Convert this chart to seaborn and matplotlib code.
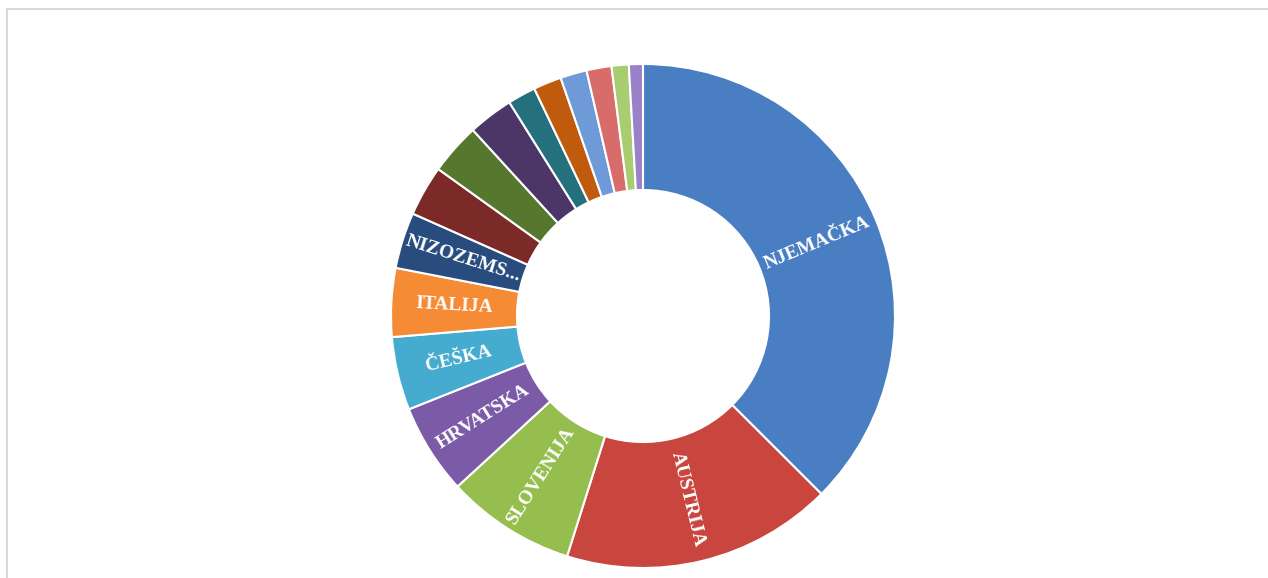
import numpy as np
import matplotlib
matplotlib.use("Agg")
import matplotlib.pyplot as plt
import seaborn as sns
from matplotlib.lines import Line2D

sns.set_theme(style="white")

# share of total (%), clockwise from the top
countries = ["NJEMAČKA", "AUSTRIJA", "SLOVENIJA", "HRVATSKA", "ČEŠKA", "ITALIJA",
             "NIZOZEMSKA", "ZEMLJA 8", "ZEMLJA 9", "ZEMLJA 10", "ZEMLJA 11",
             "ZEMLJA 12", "ZEMLJA 13", "ZEMLJA 14", "ZEMLJA 15", "ZEMLJA 16"]
shares = [37.5, 17.4, 8.3, 5.8, 4.7, 4.4, 3.6, 3.25, 3.3, 2.9, 1.8, 1.8, 1.7, 1.6, 1.1, 0.9]
shown_labels = ["NJEMAČKA", "AUSTRIJA", "SLOVENIJA", "HRVATSKA", "ČEŠKA", "ITALIJA",
                "NIZOZEMS...", "", "", "", "", "", "", "", "", ""]

colors = sns.color_palette([
    "#4A7EC2", "#C9463F", "#96BE4E", "#7B5BA8", "#45ACD0", "#F68B35",
    "#284C7E", "#7C2A28", "#56772E", "#4C3567", "#25707D", "#C05A0C",
    "#6E9BD8", "#D86C6B", "#A8CC70", "#9B82C8"])

fig = plt.figure(figsize=(12.68, 5.78), dpi=100)
fig.patch.set_facecolor("white")

# light frame (top and left edges visible)
fig.add_artist(Line2D([7 / 1268, 1], [1 - 9 / 578, 1 - 9 / 578],
                      transform=fig.transFigure, color="#d9d9d9", lw=1.5))
fig.add_artist(Line2D([7 / 1268, 7 / 1268], [0, 1 - 9 / 578],
                      transform=fig.transFigure, color="#d9d9d9", lw=1.5))

ax = fig.add_axes([391 / 1268, 10 / 578, 504 / 1268, 504 / 578])
wedges, _ = ax.pie(shares, colors=colors, startangle=90, counterclock=False,
                   radius=1.0, wedgeprops=dict(width=0.5, edgecolor="white", linewidth=1.5))

for w, lab in zip(wedges, shown_labels):
    if not lab:
        continue
    mid = (w.theta1 + w.theta2) / 2
    a = np.deg2rad(mid)
    x, y = 0.75 * np.cos(a), 0.75 * np.sin(a)
    rot = mid % 360
    if 90 < rot < 270:
        rot -= 180
    ax.text(x, y, lab, rotation=rot, ha="center", va="center",
            rotation_mode="anchor", color="white", fontsize=14,
            fontweight="bold", family=["Liberation Serif", "DejaVu Serif"])

ax.set_xlim(-1, 1)
ax.set_ylim(-1, 1)
ax.axis("off")

fig.savefig("out.png", dpi=100, facecolor="white")
